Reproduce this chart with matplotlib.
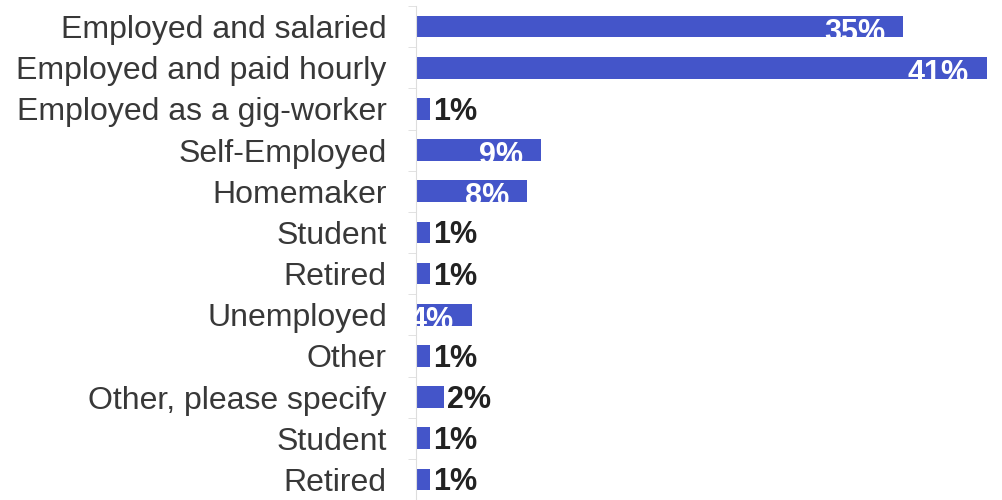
import matplotlib.pyplot as plt
from matplotlib import transforms

plt.rcParams['font.family'] = ['Liberation Sans', 'DejaVu Sans']

categories = ['Employed and salaried', 'Employed and paid hourly', 'Employed as a gig-worker',
              'Self-Employed', 'Homemaker', 'Student', 'Retired', 'Unemployed', 'Other',
              'Other, please specify', 'Student', 'Retired']
values = [35, 41, 1, 9, 8, 1, 1, 4, 1, 2, 1, 1]
labels = ['35%', '41%', '1%', '9%', '8%', '1%', '1%', '4%', '1%', '2%', '1%', '1%']

bar_color = '#4455c9'

fig = plt.figure(figsize=(10.02, 5.0), dpi=100)
ax = fig.add_axes([416 / 1002, 0, 1 - 416 / 1002, 1 - 6 / 500])

ypos = list(range(len(categories)))
bars = ax.barh(ypos, values, height=0.53, color=bar_color)

ax.set_xlim(0, 42.08)
ax.set_ylim(11.37, -0.5)

ax.set_yticks(ypos)
ax.set_yticklabels(categories, fontsize=23, color='#383838')
ax.set_yticks([i - 0.5 for i in range(len(categories) + 1)], minor=True)
ax.tick_params(axis='y', which='major', length=0, pad=21)
ax.tick_params(axis='y', which='minor', length=6, color='#dddddd')
ax.set_xticks([])

for s in ['top', 'right', 'bottom']:
    ax.spines[s].set_visible(False)
ax.spines['left'].set_color('#dddddd')

inside = transforms.offset_copy(ax.transData, fig=fig, x=-18, y=-6, units='dots')
outside = transforms.offset_copy(ax.transData, fig=fig, x=3, y=-3, units='dots')

for b, v, lab, y in zip(bars, values, labels, ypos):
    if v >= 4:
        t = ax.text(v, y, lab, transform=inside, ha='right', va='center',
                    fontsize=22, fontweight='bold', color='white')
        t.set_clip_path(b)
    else:
        ax.text(v, y, lab, transform=outside, ha='left', va='center',
                fontsize=22, fontweight='bold', color='#222222')

fig.savefig('out.png', dpi=100)
